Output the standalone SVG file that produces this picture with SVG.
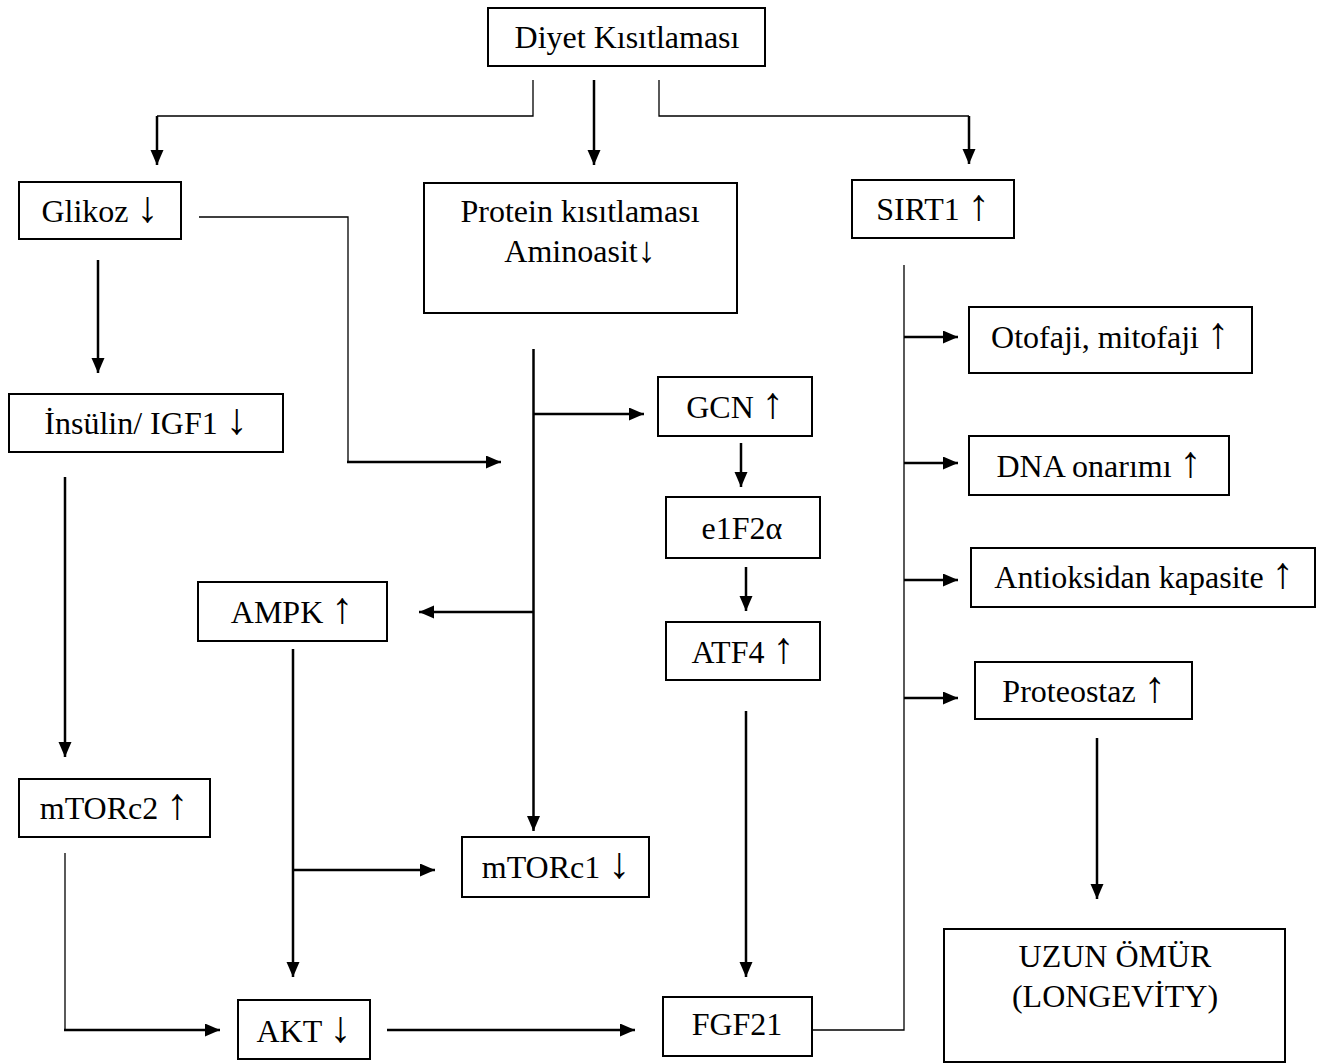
<svg xmlns="http://www.w3.org/2000/svg" width="1324" height="1063" viewBox="0 0 1324 1063">
<style>
.box{fill:#fff;stroke:#000;stroke-width:2}
.t{font-family:"Liberation Serif","Times New Roman",serif;font-size:32px;fill:#000;text-anchor:middle}
.a{font-size:44px}
.b{font-size:36px}
.thick{fill:none;stroke:#000;stroke-width:2.5}
.thin{fill:none;stroke:#000;stroke-width:1.3}
</style>
<defs>
<marker id="ah" markerUnits="userSpaceOnUse" markerWidth="16" markerHeight="14" refX="15" refY="6.5" orient="auto">
<path d="M0,0 L15,6.5 L0,13 z" fill="#000"/>
</marker>
</defs>
<rect width="1324" height="1063" fill="#fff"/>
<g id="connectors">
<polyline class="thin" points="533,80 533,116 157,116"/>
<line class="thick" x1="157" y1="116" x2="157" y2="165" marker-end="url(#ah)"/>
<line class="thick" x1="594" y1="80" x2="594" y2="165" marker-end="url(#ah)"/>
<polyline class="thin" points="659,80 659,116 969,116"/>
<line class="thick" x1="969" y1="116" x2="969" y2="164" marker-end="url(#ah)"/>
<polyline class="thin" points="199,217 348,217 348,462"/>
<line class="thick" x1="347" y1="462" x2="501" y2="462" marker-end="url(#ah)"/>
<line class="thick" x1="98" y1="260" x2="98" y2="373" marker-end="url(#ah)"/>
<line class="thick" x1="65" y1="477" x2="65" y2="757" marker-end="url(#ah)"/>
<polyline class="thin" points="65,853 65,1030"/>
<line class="thick" x1="64" y1="1030" x2="220" y2="1030" marker-end="url(#ah)"/>
<line class="thick" x1="387" y1="1030" x2="635" y2="1030" marker-end="url(#ah)"/>
<line class="thick" x1="533.5" y1="349" x2="533.5" y2="831" marker-end="url(#ah)"/>
<line class="thick" x1="533.5" y1="414" x2="644" y2="414" marker-end="url(#ah)"/>
<line class="thick" x1="533.5" y1="612" x2="419" y2="612" marker-end="url(#ah)"/>
<line class="thick" x1="293" y1="649" x2="293" y2="977" marker-end="url(#ah)"/>
<line class="thick" x1="293" y1="870" x2="435" y2="870" marker-end="url(#ah)"/>
<line class="thick" x1="741" y1="443" x2="741" y2="487" marker-end="url(#ah)"/>
<line class="thick" x1="746" y1="567" x2="746" y2="611" marker-end="url(#ah)"/>
<line class="thick" x1="746" y1="711" x2="746" y2="977" marker-end="url(#ah)"/>
<polyline class="thin" points="812,1030 904,1030 904,265"/>
<line class="thick" x1="904" y1="337" x2="958" y2="337" marker-end="url(#ah)"/>
<line class="thick" x1="904" y1="463" x2="958" y2="463" marker-end="url(#ah)"/>
<line class="thick" x1="904" y1="580" x2="958" y2="580" marker-end="url(#ah)"/>
<line class="thick" x1="904" y1="698" x2="958" y2="698" marker-end="url(#ah)"/>
<line class="thick" x1="1097" y1="738" x2="1097" y2="899" marker-end="url(#ah)"/>
</g>
<g id="diyet"><rect class="box" x="488" y="8" width="277" height="58"/><text class="t" x="627" y="48">Diyet Kısıtlaması</text></g>
<g id="glikoz"><rect class="box" x="19" y="182" width="162" height="57"/><text class="t" x="100" y="222">Glikoz <tspan class="a">↓</tspan></text></g>
<g id="protein"><rect class="box" x="424" y="183" width="313" height="130"/><text class="t" x="580" y="222">Protein kısıtlaması</text><text class="t" x="580" y="262">Aminoasit<tspan class="b">↓</tspan></text></g>
<g id="sirt1"><rect class="box" x="852" y="180" width="162" height="58"/><text class="t" x="933" y="220">SIRT1 <tspan class="a">↑</tspan></text></g>
<g id="insulin"><rect class="box" x="9" y="394" width="274" height="58"/><text class="t" x="146" y="434">İnsülin/ IGF1 <tspan class="a">↓</tspan></text></g>
<g id="gcn"><rect class="box" x="658" y="377" width="154" height="59"/><text class="t" x="735" y="418">GCN <tspan class="a">↑</tspan></text></g>
<g id="e1f2a"><rect class="box" x="666" y="497" width="154" height="61"/><text class="t" x="742" y="539">e1F2α</text></g>
<g id="atf4"><rect class="box" x="666" y="622" width="154" height="58"/><text class="t" x="743" y="663">ATF4 <tspan class="a">↑</tspan></text></g>
<g id="ampk"><rect class="box" x="198" y="582" width="189" height="59"/><text class="t" x="292" y="623">AMPK <tspan class="a">↑</tspan></text></g>
<g id="mtorc2"><rect class="box" x="19" y="779" width="191" height="58"/><text class="t" x="114" y="819">mTORc2 <tspan class="a">↑</tspan></text></g>
<g id="mtorc1"><rect class="box" x="462" y="837" width="187" height="60"/><text class="t" x="556" y="878">mTORc1 <tspan class="a">↓</tspan></text></g>
<g id="akt"><rect class="box" x="238" y="1000" width="132" height="59"/><text class="t" x="304" y="1042">AKT <tspan class="a">↓</tspan></text></g>
<g id="fgf21"><rect class="box" x="663" y="997" width="149" height="59"/><text class="t" x="737" y="1035">FGF21</text></g>
<g id="otofaji"><rect class="box" x="969" y="307" width="283" height="66"/><text class="t" x="1110" y="348">Otofaji, mitofaji <tspan class="a">↑</tspan></text></g>
<g id="dna"><rect class="box" x="969" y="436" width="260" height="59"/><text class="t" x="1099" y="477">DNA onarımı <tspan class="a">↑</tspan></text></g>
<g id="antioksidan"><rect class="box" x="971" y="548" width="344" height="59"/><text class="t" x="1144" y="588">Antioksidan kapasite <tspan class="a">↑</tspan></text></g>
<g id="proteostaz"><rect class="box" x="975" y="662" width="217" height="57"/><text class="t" x="1084" y="702">Proteostaz <tspan class="a">↑</tspan></text></g>
<g id="longevity"><rect class="box" x="944" y="929" width="341" height="133"/><text class="t" x="1115" y="967">UZUN ÖMÜR</text><text class="t" x="1115" y="1007">(LONGEVİTY)</text></g>
</svg>
